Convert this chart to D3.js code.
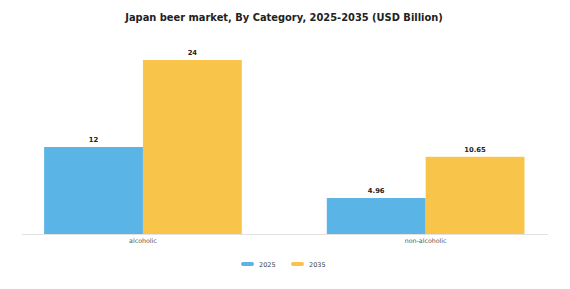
<!DOCTYPE html>
<html><head><meta charset="utf-8">
<script src="https://cdn.jsdelivr.net/npm/d3@7"></script>
<style>body{margin:0;background:#fff;}svg{display:block;font-family:"DejaVu Sans",sans-serif;}</style>
</head><body>
<script>
const categories = ["alcoholic", "non-alcoholic"];
const seriesNames = ["2025", "2035"];
const values2025 = [12, 4.96];
const values2035 = [24, 10.65];
const valueLabels2025 = ["12", "4.96"];
const valueLabels2035 = ["24", "10.65"];
const colors = ["#5ab4e6", "#f8c449"];

const W = 570, H = 289;
const svg = d3.select("body").append("svg").attr("width", W).attr("height", H);

const x0 = d3.scaleBand().domain(categories).range([1.6, 567]);
const x1 = d3.scaleBand().domain(seriesNames).range([0, x0.bandwidth()]).paddingOuter(0.43).paddingInner(0);
const y = d3.scaleLinear().domain([0, 24]).range([234, 60]);

svg.append("text").attr("x", 284).attr("y", 21).attr("text-anchor", "middle")
  .attr("font-size", 9.9).attr("font-weight", "bold").attr("fill", "#222")
  .text("Japan beer market, By Category, 2025-2035 (USD Billion)");

const data = categories.map((c, i) => ({cat: c, vals: [
  {s: seriesNames[0], v: values2025[i], l: valueLabels2025[i]},
  {s: seriesNames[1], v: values2035[i], l: valueLabels2035[i]}]}));

const g = svg.selectAll("g.cat").data(data).enter().append("g")
  .attr("transform", d => `translate(${x0(d.cat)},0)`);
g.selectAll("rect").data(d => d.vals).enter().append("rect")
  .attr("x", d => x1(d.s)).attr("width", x1.bandwidth())
  .attr("y", d => y(d.v)).attr("height", d => y(0) - y(d.v))
  .attr("fill", (d, i) => colors[i]);
g.selectAll("text.v").data(d => d.vals).enter().append("text")
  .attr("x", d => x1(d.s) + x1.bandwidth() / 2).attr("y", d => y(d.v) - 5)
  .attr("text-anchor", "middle").attr("font-size", 6.8).attr("font-weight", "bold").attr("fill", "#222")
  .text(d => d.l);

svg.append("line").attr("x1", 22).attr("x2", 548).attr("y1", y(0) + 0.5).attr("y2", y(0) + 0.5)
  .attr("stroke", "#e2e2e2").attr("stroke-width", 1);

const xAxis = d3.axisBottom(x0).tickSize(0).tickPadding(5);
const ax = svg.append("g").attr("transform", `translate(0,${y(0)})`).call(xAxis);
ax.select(".domain").remove();
ax.selectAll("text").attr("font-size", 6.3).attr("fill", "#555").attr("font-family", "DejaVu Sans, sans-serif");

const legX = [241, 291];
const leg = svg.selectAll("g.leg").data(seriesNames).enter().append("g")
  .attr("transform", (d, i) => `translate(${legX[i]},264)`);
leg.append("rect").attr("x", 0).attr("y", -2).attr("width", 13).attr("height", 4).attr("rx", 2).attr("fill", (d, i) => colors[i]);
leg.append("text").attr("x", 18).attr("y", 2.5).attr("font-size", 6.5).attr("fill", "#444").text(d => d);
</script>
</body></html>
